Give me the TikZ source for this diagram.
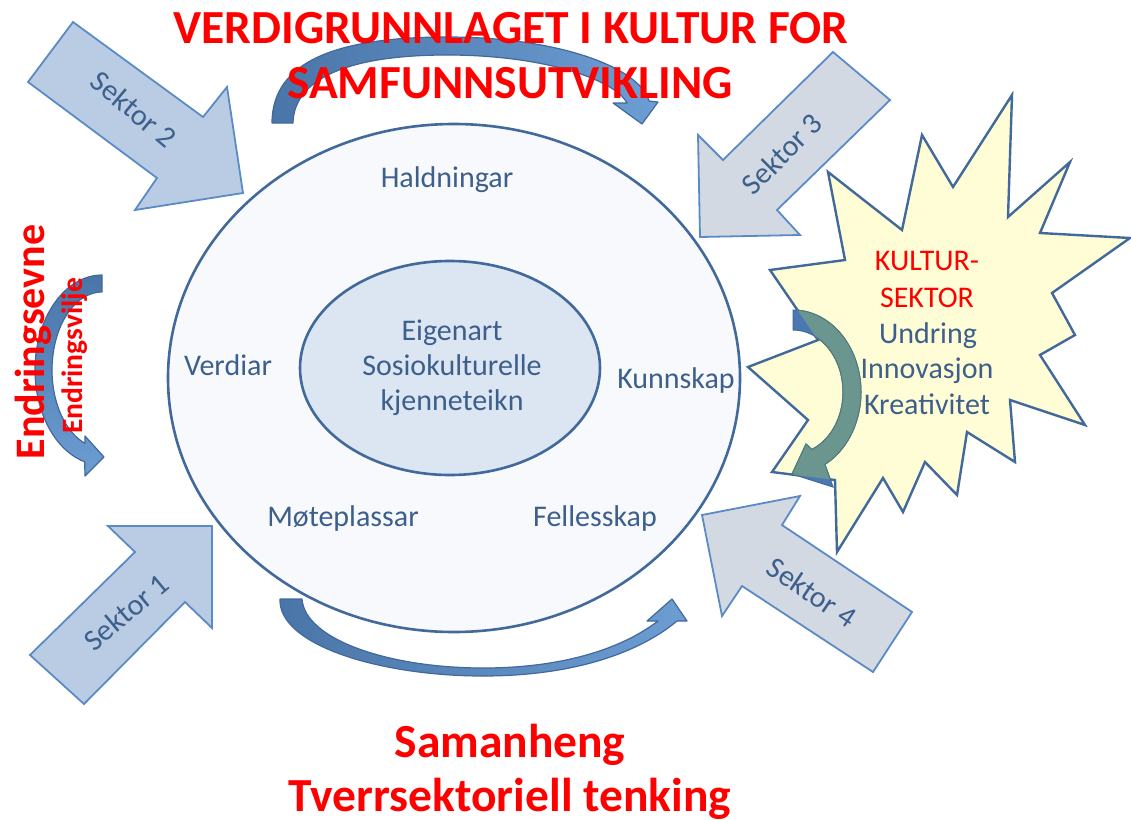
\documentclass[tikz,border=0pt]{standalone}
\usepackage{fontspec}
\setmainfont{Carlito}
\definecolor{ebord}{HTML}{41699B}
\definecolor{efill}{HTML}{F7F9FC}
\definecolor{ifill}{HTML}{DCE6F2}
\definecolor{tblue}{HTML}{3D5F8C}
\definecolor{sfillA}{HTML}{B9CCE3}
\definecolor{sfillB}{HTML}{D2D9E3}
\definecolor{sbord}{HTML}{5B8BC5}
\definecolor{starfill}{HTML}{FFFDD5}
\definecolor{arrdark}{HTML}{4A75A8}
\definecolor{arrlight}{HTML}{6C9DD3}
\definecolor{arrblue}{HTML}{4A78B0}
\definecolor{tealarr}{HTML}{6B958F}
\definecolor{tealdark}{HTML}{4F7C7A}
\tikzset{
  lbl/.style={text=tblue, font=\fontsize{30}{36}\selectfont, anchor=base, inner sep=0pt},
  sek/.style={text=tblue, font=\fontsize{30}{36}\selectfont, inner sep=0pt},
  ttl/.style={text=red, font=\bfseries\fontsize{47.5}{54}\selectfont, anchor=base, inner sep=0pt},
  sarrA/.style={fill=sfillA, draw=sbord, line width=1.8pt, line join=miter},
  sarrB/.style={fill=sfillB, draw=sbord, line width=1.8pt, line join=miter},
  curv/.style={draw=ebord, line width=1.2pt, line join=round},
}
\def\starpath{(1012,95) -- (1008,217) -- (1070,162) -- (1040,233) -- (1130,238) -- (1052,293) -- (1075,335) -- (1040,355) -- (1085,425) -- (1010,400) -- (1015,462) -- (967,432) -- (957,495) -- (925,462) -- (903,512) -- (883,478) -- (837,552) -- (835,480) -- (772,472) -- (808,420) -- (748,367) -- (818,340) -- (770,270) -- (845,260) -- (828,172) -- (902,230) -- (922,135) -- (953,187) -- cycle}
\def\stararrow{plot[domain=270:422, samples=50] ({793+68*cos(\x)},{392+82*sin(\x)}) -- (833,487) -- (792,474) -- (806,444) -- plot[domain=428:270, samples=50] ({793+50*cos(\x)},{392+62*sin(\x)}) -- cycle}
\begin{document}
\begin{tikzpicture}[x=1pt,y=-1pt]
\useasboundingbox[fill=white] (0,0) rectangle (1131,819);

% sector arrows
\draw[sarrA] (73,22) -- (203,117) -- (227,87) -- (243,193) -- (135,210) -- (157,178) -- (28,82) -- cycle;
\draw[sarrA] (30,655) -- (135,552) -- (108,526) -- (212,526) -- (212,628) -- (185,602) -- (84,704) -- cycle;
\draw[sarrB] (833,52) -- (723,160) -- (698,135) -- (700,237) -- (800,235) -- (777,210) -- (890,100) -- cycle;
\draw[sarrB] (702,515) -- (800,496) -- (782,525) -- (912,612) -- (873,672) -- (742,586) -- (722,616) -- cycle;

\node[sek, rotate=-40] (s2) at (134,109) {Sektor 2};
\node[sek, rotate=40] (s1) at (126,612) {Sektor 1};
\node[sek, rotate=45] (s3) at (782,154) {Sektor 3};
\node[sek, rotate=-34] (s4) at (812,592) {Sektor 4};

% ellipses
\filldraw[fill=efill, draw=ebord, line width=2.6pt] (454,378) ellipse [x radius=286, y radius=254];
\filldraw[fill=ifill, draw=ebord, line width=2.6pt] (450,368) ellipse [x radius=150, y radius=107];

\node[lbl] (hald) at (447,187) {Haldningar};
\node[lbl] (verd) at (228,375) {Verdiar};
\node[lbl] (kunn) at (676,388) {Kunnskap};
\node[lbl] (mote) at (343,526) {Møteplassar};
\node[lbl] (fell) at (595,526) {Fellesskap};
\node[lbl] (eig) at (452,340) {Eigenart};
\node[lbl] (sos) at (452,375) {Sosiokulturelle};
\node[lbl] (kje) at (452,410) {kjenneteikn};

% star
\filldraw[fill=starfill, draw=ebord, line width=2.4pt, line join=miter] \starpath;
\filldraw[fill=arrblue, draw=ebord, line width=1pt] \stararrow;
\begin{scope}
\clip \starpath;
\filldraw[fill=tealarr, draw=tealdark, line width=1pt] \stararrow;
\end{scope}
\node[lbl, text=red] (kul1) at (927,270) {KULTUR-};
\node[lbl, text=red] (kul2) at (927,307) {SEKTOR};
\node[lbl] (und) at (928,343) {Undring};
\node[lbl] (inn) at (927,378) {Innovasjon};
\node[lbl] (kre) at (927,414) {Kreativitet};

% top curved arrow
\shadedraw[curv, left color=arrdark, right color=arrlight]
 (272,123) .. controls (272,60) and (340,37) .. (447,37)
 .. controls (560,37) and (640,68) .. (649,101)
 -- (658,102) -- (642,124) -- (613,103) -- (627,103)
 .. controls (615,80) and (545,55) .. (447,55)
 .. controls (350,55) and (294,78) .. (293,123) -- cycle;

% bottom curved arrow
\shadedraw[curv, left color=arrdark, right color=arrlight]
 (280,599) .. controls (278,645) and (380,676) .. (483,676)
 .. controls (575,676) and (640,652) .. (677,621)
 -- (687,621) -- (672,599) -- (647,621) -- (658,621)
 .. controls (620,650) and (560,668) .. (483,668)
 .. controls (390,668) and (305,640) .. (302,599) -- cycle;

% left curved arrow
\shadedraw[curv, top color=arrdark, bottom color=arrlight]
 plot[domain=270:105, samples=50] ({102+67*cos(\x)},{370+95*sin(\x)})
 -- (85,476) -- (104,457) -- (85,436)
 -- plot[domain=109.9:270, samples=50] ({102+50*cos(\x)},{370+78*sin(\x)}) -- cycle;

% titles
\node[ttl] (t1) at (511,43) {VERDIGRUNNLAGET I KULTUR FOR};
\node[ttl] (t2) at (510,98) {SAMFUNNSUTVIKLING};
\node[ttl] (b1) at (510,757) {Samanheng};
\node[ttl] (b2) at (510,811) {Tverrsektoriell tenking};
\node[ttl, rotate=90, font=\bfseries\fontsize{42}{48}\selectfont] (e1) at (44,342) {Endringsevne};
\node[ttl, rotate=90, font=\bfseries\fontsize{29.5}{34}\selectfont] (e2) at (82,356) {Endringsvilje};
\end{tikzpicture}
\end{document}
